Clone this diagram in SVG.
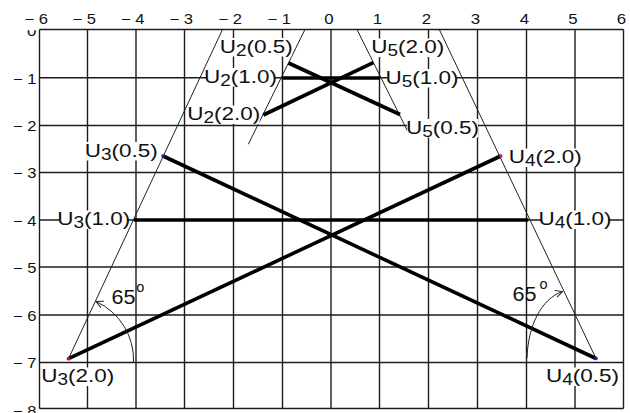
<svg xmlns="http://www.w3.org/2000/svg" width="630" height="413" viewBox="0 0 630 413">
<style>
.grid line{stroke:#1c1c1c;stroke-width:1.4}
.thin{stroke:#222;stroke-width:1;fill:none}
.thick{stroke:#000;stroke-width:3.6;stroke-linecap:butt;fill:none}
.ax{font-family:"Liberation Sans",Arial,sans-serif;font-size:14.5px;fill:#111}
.lbl{font-family:"Liberation Sans",Arial,sans-serif;font-size:19px;fill:#111;text-anchor:middle}
.sub{font-size:16px}
.bg{fill:#fff}
.ang{font-family:"Liberation Sans",Arial,sans-serif;font-size:20.5px;fill:#111}
.sup{font-size:14.5px}
.arc{stroke:#222;stroke-width:1;fill:none;marker-end:url(#arr)}
</style>
<defs>
<marker id="arr" markerUnits="userSpaceOnUse" markerWidth="12" markerHeight="10" refX="8" refY="4" orient="auto">
<path d="M1,0.5 L8,4 L1,7.5" fill="none" stroke="#222" stroke-width="1"/>
</marker>
<clipPath id="clip0"><rect x="0" y="30.2" width="39" height="20"/></clipPath>
</defs>
<rect width="630" height="413" fill="#fff"/>
<g id="grid" class="grid">
<line x1="39.5" y1="29.5" x2="39.5" y2="408.5"/>
<line x1="87.5" y1="29.5" x2="87.5" y2="408.5"/>
<line x1="136" y1="29.5" x2="136" y2="408.5"/>
<line x1="184.5" y1="29.5" x2="184.5" y2="408.5"/>
<line x1="233.5" y1="29.5" x2="233.5" y2="408.5"/>
<line x1="282.5" y1="29.5" x2="282.5" y2="408.5"/>
<line x1="331" y1="29.5" x2="331" y2="408.5"/>
<line x1="379.5" y1="29.5" x2="379.5" y2="408.5"/>
<line x1="428.5" y1="29.5" x2="428.5" y2="408.5"/>
<line x1="477.5" y1="29.5" x2="477.5" y2="408.5"/>
<line x1="526.5" y1="29.5" x2="526.5" y2="408.5"/>
<line x1="575" y1="29.5" x2="575" y2="408.5"/>
<line x1="623.5" y1="29.5" x2="623.5" y2="408.5"/>
<line x1="39.5" y1="29.5" x2="623.5" y2="29.5"/>
<line x1="39.5" y1="77.7" x2="623.5" y2="77.7"/>
<line x1="39.5" y1="125.5" x2="623.5" y2="125.5"/>
<line x1="39.5" y1="172.5" x2="623.5" y2="172.5"/>
<line x1="39.5" y1="220" x2="623.5" y2="220"/>
<line x1="39.5" y1="267" x2="623.5" y2="267"/>
<line x1="39.5" y1="315" x2="623.5" y2="315"/>
<line x1="39.5" y1="362.5" x2="623.5" y2="362.5"/>
<line x1="39.5" y1="408.5" x2="623.5" y2="408.5"/>
</g>
<g id="axis-labels">
<text class="ax" x="24.4" y="24" textLength="23.5" lengthAdjust="spacingAndGlyphs">− 6</text>
<text class="ax" x="72.4" y="24" textLength="23.5" lengthAdjust="spacingAndGlyphs">− 5</text>
<text class="ax" x="120.9" y="24" textLength="23.5" lengthAdjust="spacingAndGlyphs">− 4</text>
<text class="ax" x="169.4" y="24" textLength="23.5" lengthAdjust="spacingAndGlyphs">− 3</text>
<text class="ax" x="218.4" y="24" textLength="23.5" lengthAdjust="spacingAndGlyphs">− 2</text>
<text class="ax" x="267.4" y="24" textLength="23.5" lengthAdjust="spacingAndGlyphs">− 1</text>
<text class="ax" x="329" y="24" text-anchor="middle" textLength="9.4" lengthAdjust="spacingAndGlyphs">0</text>
<text class="ax" x="377.5" y="24" text-anchor="middle" textLength="9.4" lengthAdjust="spacingAndGlyphs">1</text>
<text class="ax" x="426.5" y="24" text-anchor="middle" textLength="9.4" lengthAdjust="spacingAndGlyphs">2</text>
<text class="ax" x="475.5" y="24" text-anchor="middle" textLength="9.4" lengthAdjust="spacingAndGlyphs">3</text>
<text class="ax" x="524.5" y="24" text-anchor="middle" textLength="9.4" lengthAdjust="spacingAndGlyphs">4</text>
<text class="ax" x="573" y="24" text-anchor="middle" textLength="9.4" lengthAdjust="spacingAndGlyphs">5</text>
<text class="ax" x="621.5" y="24" text-anchor="middle" textLength="9.4" lengthAdjust="spacingAndGlyphs">6</text>
<text class="ax" x="36.5" y="35.5" text-anchor="end" textLength="9.4" lengthAdjust="spacingAndGlyphs" clip-path="url(#clip0)">0</text>
<text class="ax" x="36.5" y="83.5" text-anchor="end" textLength="23.5" lengthAdjust="spacingAndGlyphs">− 1</text>
<text class="ax" x="36.5" y="131.3" text-anchor="end" textLength="23.5" lengthAdjust="spacingAndGlyphs">− 2</text>
<text class="ax" x="36.5" y="178.3" text-anchor="end" textLength="23.5" lengthAdjust="spacingAndGlyphs">− 3</text>
<text class="ax" x="36.5" y="225.8" text-anchor="end" textLength="23.5" lengthAdjust="spacingAndGlyphs">− 4</text>
<text class="ax" x="36.5" y="272.8" text-anchor="end" textLength="23.5" lengthAdjust="spacingAndGlyphs">− 5</text>
<text class="ax" x="36.5" y="320.8" text-anchor="end" textLength="23.5" lengthAdjust="spacingAndGlyphs">− 6</text>
<text class="ax" x="36.5" y="368.3" text-anchor="end" textLength="23.5" lengthAdjust="spacingAndGlyphs">− 7</text>
<text class="ax" x="36.5" y="415.5" text-anchor="end" textLength="23.5" lengthAdjust="spacingAndGlyphs">− 8</text>
</g>
<g id="construction">
<path class="thin" d="M68.5,358.7 L222.5,29.5"/>
<path class="thin" d="M596,358.5 L439.3,29.5"/>
<path class="thin" d="M248.3,144.3 L305,29.5"/>
<path class="thin" d="M357,29.5 L410,136"/>
</g>
<g id="connectors">
<path class="thick" d="M288.5,63 L400,114.5"/>
<path class="thick" d="M281.7,78 L380,78"/>
<path class="thick" d="M263.3,115 L373.3,62.7"/>
<path class="thick" d="M163,156 L596,358.5"/>
<path class="thick" d="M134,220 L528.3,220"/>
<path class="thick" d="M68.5,358.7 L500.7,156"/>
</g>
<g id="points">
<circle cx="163" cy="156" r="1.8" fill="#1b2a8a"/>
<circle cx="68.5" cy="358.7" r="1.9" fill="#d01010"/>
<circle cx="500.7" cy="156" r="1.8" fill="#a0208f"/>
<circle cx="596" cy="358.5" r="1.8" fill="#1b2a8a"/>
</g>
<g id="U2_05"><rect class="bg" x="221" y="38" width="70.5" height="18.5"/><text class="lbl" x="256.2" y="52.5" textLength="73" lengthAdjust="spacingAndGlyphs">U<tspan class="sub" dy="3">2</tspan><tspan dy="-3">(0.5)</tspan></text></g>
<g id="U2_10"><rect class="bg" x="206" y="68" width="69" height="18.5"/><text class="lbl" x="240.5" y="82.5" textLength="73" lengthAdjust="spacingAndGlyphs">U<tspan class="sub" dy="3">2</tspan><tspan dy="-3">(1.0)</tspan></text></g>
<g id="U2_20"><rect class="bg" x="188" y="105.5" width="71.5" height="18.5"/><text class="lbl" x="223.7" y="120" textLength="73" lengthAdjust="spacingAndGlyphs">U<tspan class="sub" dy="3">2</tspan><tspan dy="-3">(2.0)</tspan></text></g>
<g id="U5_20"><rect class="bg" x="373" y="38.5" width="69.5" height="18.5"/><text class="lbl" x="407.7" y="53" textLength="73" lengthAdjust="spacingAndGlyphs">U<tspan class="sub" dy="3">5</tspan><tspan dy="-3">(2.0)</tspan></text></g>
<g id="U5_10"><rect class="bg" x="387.5" y="69" width="69" height="18.5"/><text class="lbl" x="422" y="83.5" textLength="73" lengthAdjust="spacingAndGlyphs">U<tspan class="sub" dy="3">5</tspan><tspan dy="-3">(1.0)</tspan></text></g>
<g id="U5_05"><rect class="bg" x="407" y="119" width="71" height="18.5"/><text class="lbl" x="442.5" y="133.5" textLength="73" lengthAdjust="spacingAndGlyphs">U<tspan class="sub" dy="3">5</tspan><tspan dy="-3">(0.5)</tspan></text></g>
<g id="U3_05"><rect class="bg" x="85.5" y="142" width="71.5" height="18.5"/><text class="lbl" x="121.2" y="156.5" textLength="73" lengthAdjust="spacingAndGlyphs">U<tspan class="sub" dy="3">3</tspan><tspan dy="-3">(0.5)</tspan></text></g>
<g id="U3_10"><rect class="bg" x="59.5" y="210.5" width="68" height="18.5"/><text class="lbl" x="93.7" y="225" textLength="73" lengthAdjust="spacingAndGlyphs">U<tspan class="sub" dy="3">3</tspan><tspan dy="-3">(1.0)</tspan></text></g>
<g id="U3_20"><rect class="bg" x="42.5" y="367.5" width="70.5" height="18.5"/><text class="lbl" x="77.8" y="382" textLength="73" lengthAdjust="spacingAndGlyphs">U<tspan class="sub" dy="3">3</tspan><tspan dy="-3">(2.0)</tspan></text></g>
<g id="U4_20"><rect class="bg" x="511" y="148.5" width="68.5" height="18.5"/><text class="lbl" x="545.2" y="163" textLength="73" lengthAdjust="spacingAndGlyphs">U<tspan class="sub" dy="3">4</tspan><tspan dy="-3">(2.0)</tspan></text></g>
<g id="U4_10"><rect class="bg" x="541.5" y="210.5" width="67" height="18.5"/><text class="lbl" x="575" y="225" textLength="73" lengthAdjust="spacingAndGlyphs">U<tspan class="sub" dy="3">4</tspan><tspan dy="-3">(1.0)</tspan></text></g>
<g id="U4_05"><rect class="bg" x="547" y="367.5" width="71" height="18.5"/><text class="lbl" x="582.5" y="382" textLength="73" lengthAdjust="spacingAndGlyphs">U<tspan class="sub" dy="3">4</tspan><tspan dy="-3">(0.5)</tspan></text></g>
<g id="angle_left">
<path class="arc" d="M133.5,362.5 A64,64 0 0 0 96,301.5"/>
<text class="ang" x="111.5" y="304" textLength="24" lengthAdjust="spacingAndGlyphs">65</text><text class="ang sup" x="136.3" y="291.8">o</text>
</g>
<g id="angle_right">
<path class="arc" d="M527,358 C528,326 541,299 562.5,291.5"/>
<text class="ang" x="512.5" y="300.7" textLength="24" lengthAdjust="spacingAndGlyphs">65</text><text class="ang sup" x="539.6" y="289">o</text>
</g>
</svg>
